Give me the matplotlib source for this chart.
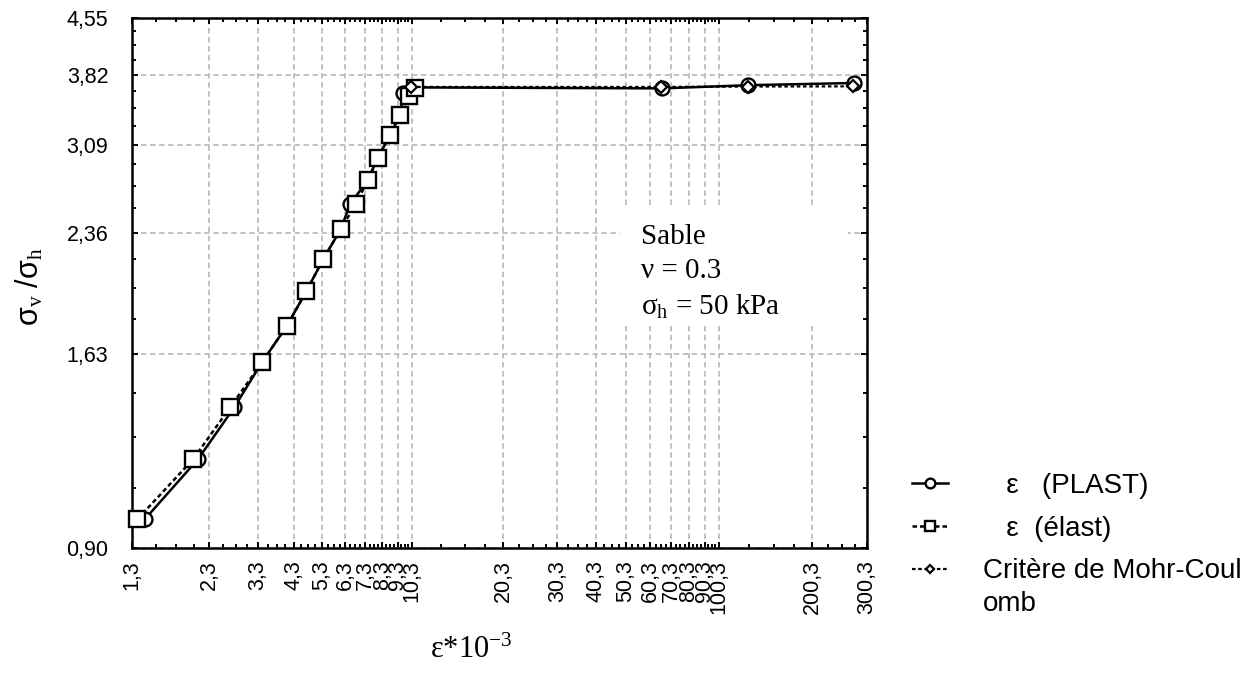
import numpy as np
import matplotlib.pyplot as plt
from matplotlib.ticker import FixedLocator, NullFormatter
from matplotlib.patches import Rectangle

plt.rcParams['font.family'] = ['Liberation Sans', 'DejaVu Sans']
plt.rcParams['mathtext.fontset'] = 'custom'
plt.rcParams['mathtext.rm'] = 'Liberation Serif'
plt.rcParams['mathtext.it'] = 'Liberation Serif:italic'

# data (strain *10^-3, stress ratio)
plast_x = [1.43, 2.12, 2.77, 3.40, 4.09, 4.73, 5.36, 6.10, 6.53, 7.46, 8.03, 8.78, 9.46, 9.69, 10.45, 65.8, 124.3, 272.6]
plast_y = [0.983, 1.181, 1.383, 1.587, 1.774, 1.974, 2.178, 2.385, 2.575, 2.773, 2.970, 3.178, 3.382, 3.614, 3.680, 3.669, 3.705, 3.730]

elast_x = [1.354, 2.046, 2.686, 3.404, 4.087, 4.732, 5.360, 6.097, 6.813, 7.461, 8.034, 8.779, 9.455, 10.14, 10.53]
elast_y = [0.983, 1.181, 1.383, 1.587, 1.774, 1.974, 2.178, 2.385, 2.575, 2.773, 2.970, 3.178, 3.382, 3.589, 3.678]

mc_x = [10.26, 65.3, 124.3, 270.5]
mc_y = [3.685, 3.685, 3.690, 3.692]

x_ticks = [1.3, 2.3, 3.3, 4.3, 5.3, 6.3, 7.3, 8.3, 9.3, 10.3, 20.3, 30.3, 40.3, 50.3, 60.3, 70.3, 80.3, 90.3, 100.3, 200.3, 300.3]
y_ticks = [0.90, 1.63, 2.36, 3.09, 3.82, 4.55]

labels = ['   ε   (PLAST)', '   ε  (élast)', 'Critère de Mohr-Coul']

fig = plt.figure(figsize=(12.6, 6.9), dpi=100)
ax = fig.add_axes([132 / 1260, 1 - 548 / 690, 735 / 1260, 530 / 690])

l1, = ax.plot(plast_x, plast_y, color='black', lw=1.8, marker='o', ms=10,
              mfc='white', mec='black', mew=1.7, zorder=3, clip_on=False)
l2, = ax.plot(elast_x, elast_y, color='black', lw=1.8, ls=(0, (1.8, 1.2)), marker='s', ms=11,
              mfc='white', mec='black', mew=1.7, zorder=4, clip_on=False)
l3, = ax.plot(mc_x, mc_y, color='black', lw=1.6, ls=(0, (1.6, 1.2)), marker='D', ms=6.5,
              mfc='white', mec='black', mew=1.6, zorder=5, clip_on=False)

ax.set_xscale('log')
ax.set_yscale('log')
ax.set_xlim(1.3, 300.3)
ax.set_ylim(0.90, 4.55)

ax.xaxis.set_major_locator(FixedLocator(x_ticks))
ax.set_xticklabels([f'{v:g}'.replace('.', ',') for v in x_ticks], rotation=90)
x_minor = np.concatenate([np.arange(1.3, 10.3, 0.25), np.arange(10.3, 100.3, 2.5), np.arange(100.3, 300.3, 25)])
ax.xaxis.set_minor_locator(FixedLocator(x_minor))
ax.xaxis.set_minor_formatter(NullFormatter())

ax.yaxis.set_major_locator(FixedLocator(y_ticks))
ax.set_yticklabels([f'{v:.2f}'.replace('.', ',') for v in y_ticks])
ax.yaxis.set_minor_locator(FixedLocator(np.arange(0.90, 4.55, 0.1825)))
ax.yaxis.set_minor_formatter(NullFormatter())

ax.tick_params(which='both', direction='in', top=True, right=True, width=1.4, color='black')
ax.tick_params(which='major', length=4)
ax.tick_params(which='minor', length=3)
ax.tick_params(axis='x', which='major', labelsize=15.5, pad=9)
ax.tick_params(axis='y', which='major', labelsize=15.5, pad=17)
for s in ax.spines.values():
    s.set_linewidth(1.8)

ax.set_axisbelow(True)
ax.grid(True, which='major', color='#bdbdbd', ls=(0, (3, 2)), lw=1.3)

# white box behind the annotation hides the grid
ax.add_patch(Rectangle((0.664, 0.421), 0.31, 0.226, transform=ax.transAxes,
                       facecolor='white', edgecolor='none', zorder=1))
ax.text(0.6925, 0.612, 'Sable\nν = 0.3\nσ$_{\\mathrm{h}}$ = 50 kPa', transform=ax.transAxes,
        family='Liberation Serif', fontsize=21, va='top', ha='left', linespacing=1.42, zorder=6)

fig.text(30 / 1260, 1 - 287 / 690, 'σ$_{\\mathrm{v}}$ /σ$_{\\mathrm{h}}$', rotation=90,
         fontsize=22, ha='center', va='center')
fig.text(471 / 1260, 1 - 650 / 690, 'ε*10$^{\\mathrm{-3}}$', family='Liberation Serif',
         fontsize=22, ha='center', va='center')

ax.legend([l1, l2, l3], labels, loc='upper left', bbox_to_anchor=(912 / 1260, 1 - 473 / 690),
          bbox_transform=fig.transFigure, frameon=False, fontsize=20, handlelength=1.3,
          handletextpad=1.26, labelspacing=0.6, borderpad=0, borderaxespad=0, markerscale=0.7)
fig.text(983 / 1260, 1 - 604 / 690, 'omb', fontsize=20, ha='left', va='center')

fig.savefig('out.png', dpi=100)
